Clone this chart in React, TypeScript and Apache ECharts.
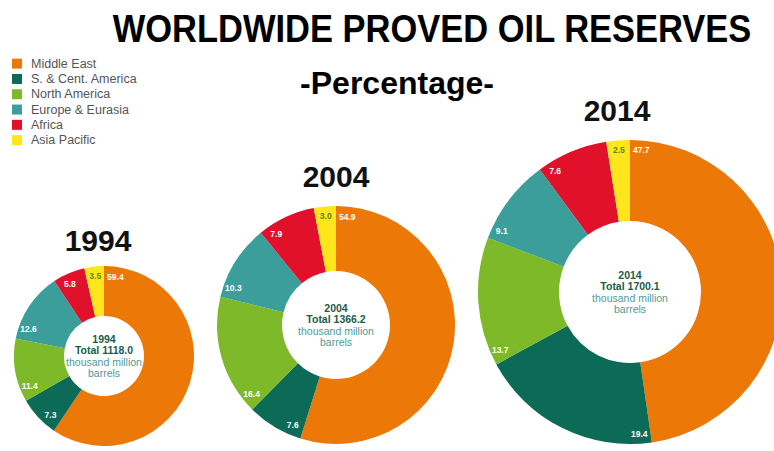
import React, { useEffect, useRef } from 'react';
import * as echarts from 'echarts';

// ---- data ----
const categories = [
  'Middle East',
  'S. & Cent. America',
  'North America',
  'Europe & Eurasia',
  'Africa',
  'Asia Pacific',
];
const years = ['1994', '2004', '2014'];
const totals = ['1118.0', '1366.2', '1700.1'];
const share1994 = [59.4, 7.3, 11.4, 12.6, 5.8, 3.5];
const share2004 = [54.9, 7.6, 16.4, 10.3, 7.9, 3.0];
const share2014 = [47.7, 19.4, 13.7, 9.1, 7.6, 2.5];
const shares = [share1994, share2004, share2014];

// ---- styles / layout ----
const sliceColors = ['#EC7808', '#0B6B56', '#7DB928', '#3B9E9B', '#E2112B', '#FFE51B'];
const labelColors = ['#ffffff', '#ffffff', '#ffffff', '#ffffff', '#ffffff', '#4F8A2A'];
const pies = [
  { cx: 104, cy: 356, R: 90, r: 40, yearX: 98, yearY: 240 },
  { cx: 336, cy: 325, R: 119, r: 54, yearX: 336, yearY: 176 },
  { cx: 630, cy: 292, R: 152, r: 71, yearX: 617, yearY: 110 },
];
const LABEL_OFFSET_PX = 11;
const LABEL_INSET_PX = 13;
const FONT = '"Liberation Sans", Arial, Helvetica, sans-serif';

export default function App() {
  const ref = useRef<HTMLDivElement>(null);

  useEffect(() => {
    if (!ref.current) return;
    const chart = echarts.init(ref.current, null, { renderer: 'svg' });

    const series: any[] = [];
    const graphic: any[] = [];

    pies.forEach((p, yi) => {
      const vals = shares[yi];
      // main donut
      series.push({
        type: 'pie',
        name: years[yi],
        center: [p.cx, p.cy],
        radius: [p.r, p.R],
        startAngle: 90,
        clockwise: true,
        silent: true,
        label: { show: false },
        labelLine: { show: false },
        avoidLabelOverlap: false,
        data: categories.map((c, i) => ({
          name: c,
          value: vals[i],
          itemStyle: { color: sliceColors[i] },
        })),
      });
      // label helper ring: a narrow leading piece per slice carries the label
      const labelR = p.R - LABEL_INSET_PX;
      const leadDeg = ((2 * LABEL_OFFSET_PX) / labelR) * (180 / Math.PI);
      const leadPct = leadDeg / 3.6;
      const helperData: any[] = [];
      categories.forEach((c, i) => {
        const v = vals[i];
        const lead = Math.min(v, leadPct);
        helperData.push({
          name: c + ' ·label',
          value: lead,
          label: {
            show: true,
            formatter: v.toFixed(1),
            color: labelColors[i],
          },
        });
        helperData.push({
          name: c + ' ·rest',
          value: Math.max(v - lead, 0),
          label: { show: false },
        });
      });
      series.push({
        type: 'pie',
        name: years[yi] + ' labels',
        center: [p.cx, p.cy],
        radius: [p.R - 2 * LABEL_INSET_PX, p.R],
        startAngle: 90,
        clockwise: true,
        silent: true,
        avoidLabelOverlap: false,
        itemStyle: { color: 'rgba(0,0,0,0)' },
        labelLine: { show: false },
        label: {
          position: 'inside',
          fontFamily: FONT,
          fontWeight: 'bold',
          fontSize: 8.5,
        },
        data: helperData,
      });

      // year heading
      graphic.push({
        type: 'text',
        x: p.yearX,
        y: p.yearY,
        silent: true,
        style: {
          text: years[yi],
          font: `bold 30px ${FONT}`,
          fill: '#111111',
          align: 'center',
          verticalAlign: 'middle',
          textAlign: 'center',
          textVerticalAlign: 'middle',
        },
      });
      // centre text
      graphic.push({
        type: 'text',
        x: p.cx,
        y: p.cy,
        silent: true,
        style: {
          text: `{y|${years[yi]}}\n{t|Total ${totals[yi]}}\n{u|thousand million}\n{u|barrels}`,
          align: 'center',
          verticalAlign: 'middle',
          textAlign: 'center',
          textVerticalAlign: 'middle',
          rich: {
            y: { fontFamily: FONT, fontWeight: 'bold', fontSize: 10.5, lineHeight: 11.5, fill: '#1B5C4C', color: '#1B5C4C', align: 'center' },
            t: { fontFamily: FONT, fontWeight: 'bold', fontSize: 10.5, lineHeight: 11.5, fill: '#1B5C4C', color: '#1B5C4C', align: 'center' },
            u: { fontFamily: FONT, fontSize: 10.5, lineHeight: 11.5, fill: '#4F9A98', color: '#4F9A98', align: 'center' },
          },
        },
      });
    });

    // main title and subtitle
    graphic.push({
      type: 'text',
      x: 432,
      y: 28.5,
      scaleY: 1.1,
      silent: true,
      style: {
        text: 'WORLDWIDE PROVED OIL RESERVES',
        font: `bold 34.5px ${FONT}`,
        fill: '#000000',
        align: 'center',
        verticalAlign: 'middle',
        textAlign: 'center',
        textVerticalAlign: 'middle',
      },
    });
    graphic.push({
      type: 'text',
      x: 397,
      y: 83,
      silent: true,
      style: {
        text: '-Percentage-',
        font: `bold 32px ${FONT}`,
        fill: '#000000',
        align: 'center',
        verticalAlign: 'middle',
        textAlign: 'center',
        textVerticalAlign: 'middle',
      },
    });

    chart.setOption({
      animation: false,
      backgroundColor: '#ffffff',
      legend: {
        orient: 'vertical',
        left: 7,
        top: 51,
        data: categories,
        selectedMode: false,
        icon: 'rect',
        itemWidth: 10,
        itemHeight: 10,
        itemGap: 0,
        textStyle: {
          fontFamily: FONT,
          fontSize: 12.5,
          lineHeight: 15.3,
          color: '#555555',
          padding: [0, 0, 0, 4],
        },
      },
      series,
      graphic,
    });

    return () => chart.dispose();
  }, []);

  return (
    <div
      ref={ref}
      style={{ position: 'fixed', left: 0, top: 0, width: 774, height: 451, background: '#ffffff' }}
    />
  );
}
